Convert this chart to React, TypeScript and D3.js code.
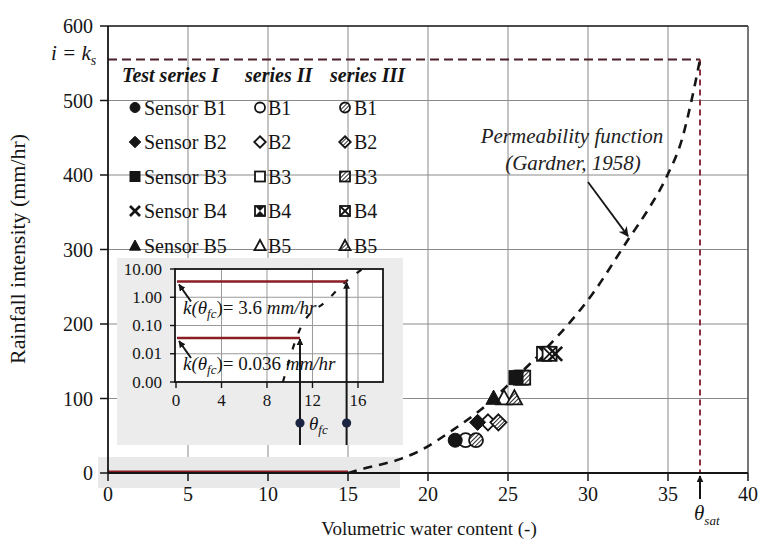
import React from "react";
import * as d3 from "d3";

// ---------- data ----------
const xTicks = [0, 5, 10, 15, 20, 25, 30, 35, 40];
const yTicks = [0, 100, 200, 300, 400, 500, 600];

const sensors = ["B1", "B2", "B3", "B4", "B5"];
const shapes = ["circle", "diamond", "square", "x", "triangle"];

// measured points (theta, intensity) per sensor B1..B5
const seriesITheta = [21.7, 23.1, 25.5, 27.95, 24.1];
const seriesIK = [44, 68, 128, 160, 101];
const seriesIITheta = [22.35, 23.75, 25.8, 27.25, 24.75];
const seriesIIK = [44, 68, 128, 160, 101];
const seriesIIITheta = [23.0, 24.4, 25.95, 27.6, 25.4];
const seriesIIIK = [44, 68, 128, 160, 101];

// Gardner (1958) permeability function
const gardnerTheta = [15, 16, 18.3, 19.5, 21.5, 23.3, 25, 26.3, 27.5, 30.3, 32.5, 33.8, 34.9, 35.9, 36.5, 37];
const gardnerK = [0, 6, 19, 30, 57, 85, 118, 145, 170, 241, 313, 355, 397, 450, 503, 555];

const ks = 555;
const thetaSat = 37;

// inset (log scale)
const insetXTicks = [0, 4, 8, 12, 16];
const insetYTicks = [0.001, 0.01, 0.1, 1, 10];
const insetCurveTheta = [9.4, 11, 13.3, 15.1, 16.4];
const insetCurveK = [0.001, 0.09, 0.79, 4.1, 10];
const thetaFc = [10.9, 15.0];
const kFc = [0.036, 3.6];
const kFcLabels = ["0.036", "3.6"];

// ---------- helpers ----------
const FONT = "'Liberation Serif', 'Times New Roman', serif";
const INK = "#151515";
const MAROON = "#8b1c24";

type MarkerProps = { shape: string; kind: string; cx: number; cy: number; s: number };
function Marker({ shape, kind, cx, cy, s }: MarkerProps) {
  const h = s / 2;
  const fill = kind === "filled" ? INK : kind === "open" ? "#fff" : "url(#hatch)";
  const sw = kind === "filled" ? 1 : 1.8;
  const common = { fill, stroke: INK, strokeWidth: sw };
  if (shape === "circle") return <circle cx={cx} cy={cy} r={h} {...common} />;
  if (shape === "diamond") {
    const d = h * 1.15;
    return <polygon points={`${cx},${cy - d} ${cx + d},${cy} ${cx},${cy + d} ${cx - d},${cy}`} {...common} />;
  }
  if (shape === "square") return <rect x={cx - h} y={cy - h} width={s} height={s} {...common} />;
  if (shape === "triangle") {
    const d = h * 1.1;
    return <polygon points={`${cx},${cy - d} ${cx + d},${cy + d * 0.85} ${cx - d},${cy + d * 0.85}`} {...common} />;
  }
  // x
  if (kind === "filled") {
    return (
      <g stroke={INK} strokeWidth={2.6}>
        <line x1={cx - h} y1={cy - h} x2={cx + h} y2={cy + h} />
        <line x1={cx - h} y1={cy + h} x2={cx + h} y2={cy - h} />
      </g>
    );
  }
  if (kind === "open") {
    return (
      <g>
        <rect x={cx - h} y={cy - h} width={s} height={s} fill="#fff" stroke={INK} strokeWidth={1.8} />
        <polygon points={`${cx - h},${cy - h} ${cx + h},${cy - h} ${cx},${cy}`} fill={INK} />
        <polygon points={`${cx - h},${cy + h} ${cx + h},${cy + h} ${cx},${cy}`} fill={INK} />
      </g>
    );
  }
  return (
    <g stroke={INK} strokeWidth={1.8}>
      <rect x={cx - h} y={cy - h} width={s} height={s} fill="#fff" />
      <line x1={cx - h} y1={cy - h} x2={cx + h} y2={cy + h} />
      <line x1={cx - h} y1={cy + h} x2={cx + h} y2={cy - h} />
    </g>
  );
}

export default function App() {
  const x = d3.scaleLinear().domain([0, 40]).range([108, 748]);
  const y = d3.scaleLinear().domain([0, 600]).range([473, 26]);

  const xi = d3.scaleLinear().domain([0, 18.2]).range([176, 383]);
  const yi = d3.scaleLog().domain([0.001, 10]).range([382, 269]);

  const gardner = d3
    .line<number>()
    .x((_, i) => x(gardnerTheta[i]))
    .y((_, i) => y(gardnerK[i]))
    .curve(d3.curveMonotoneX)(gardnerTheta) as string;

  const insetCurve = d3
    .line<number>()
    .x((_, i) => xi(insetCurveTheta[i]))
    .y((_, i) => yi(insetCurveK[i]))
    .curve(d3.curveMonotoneX)(insetCurveTheta) as string;

  const series = [
    { kind: "open", th: seriesIITheta, k: seriesIIK },
    { kind: "hatched", th: seriesIIITheta, k: seriesIIIK },
    { kind: "filled", th: seriesITheta, k: seriesIK },
  ];

  const legendBase = 114.5;
  const legendStep = 34.5;
  const legendCols = [
    { kind: "filled", mx: 135, tx: 144, prefix: "Sensor " },
    { kind: "open", mx: 260, tx: 268, prefix: "" },
    { kind: "hatched", mx: 345, tx: 354, prefix: "" },
  ];

  return (
    <svg width={761} height={544} style={{ position: "absolute", left: 0, top: 0, background: "#fff" }} fontFamily={FONT}>
      <defs>
        <pattern id="hatch" width={3} height={3} patternUnits="userSpaceOnUse" patternTransform="rotate(45)">
          <rect width={3} height={3} fill="#fff" />
          <line x1={0} y1={0} x2={0} y2={3} stroke={INK} strokeWidth={1.8} />
        </pattern>
        <marker id="arrowFill" viewBox="0 0 10 10" refX={9} refY={5} markerWidth={7} markerHeight={7} orient="auto" markerUnits="userSpaceOnUse">
          <path d="M0,0 L10,5 L0,10 z" fill={INK} />
        </marker>
        <marker id="arrowBig" viewBox="0 0 10 10" refX={9} refY={5} markerWidth={10} markerHeight={10} orient="auto" markerUnits="userSpaceOnUse">
          <path d="M0,0 L10,5 L0,10 L3,5 z" fill={INK} />
        </marker>
      </defs>

      {/* grid */}
      <g stroke="#8a8a8a" strokeWidth={1}>
        {xTicks.slice(1).map((t) => (
          <line key={"gx" + t} x1={x(t)} x2={x(t)} y1={y(600)} y2={y(0)} />
        ))}
        {yTicks.slice(1).map((t) => (
          <line key={"gy" + t} x1={x(0)} x2={x(40)} y1={y(t)} y2={y(t)} />
        ))}
      </g>

      {/* gray inset panel & band */}
      <rect x={117} y={258} width={286} height={187} fill="#ececec" />
      <rect x={98} y={457} width={302} height={31} fill="#e9e9e9" />

      {/* frame top/right */}
      <line x1={x(0)} x2={x(40)} y1={y(600)} y2={y(600)} stroke="#222" strokeWidth={1.3} />
      <line x1={x(40)} x2={x(40)} y1={y(600)} y2={y(0)} stroke="#444" strokeWidth={1.2} />

      {/* ks and theta_sat dashed lines */}
      <line x1={x(0)} x2={x(thetaSat)} y1={y(ks)} y2={y(ks)} stroke="#4a1f28" strokeWidth={2} strokeDasharray="9,5" />
      <line x1={x(thetaSat)} x2={x(thetaSat)} y1={y(ks)} y2={y(0)} stroke="#8b3040" strokeWidth={2} strokeDasharray="6,4" />

      {/* red baseline */}
      <line x1={x(0)} x2={x(15)} y1={y(0) - 1} y2={y(0) - 1} stroke={MAROON} strokeWidth={3} />

      {/* axes */}
      <line x1={x(0)} x2={x(0)} y1={y(600)} y2={y(0)} stroke={INK} strokeWidth={1.8} />
      <line x1={x(0)} x2={x(40)} y1={y(0)} y2={y(0)} stroke={INK} strokeWidth={1.8} />
      <g stroke={INK} strokeWidth={1.5}>
        {yTicks.map((t) => (
          <line key={"ty" + t} x1={x(0) - 8} x2={x(0)} y1={y(t)} y2={y(t)} />
        ))}
        {xTicks.map((t) => (
          <line key={"tx" + t} x1={x(t)} x2={x(t)} y1={y(0)} y2={y(0) + 8} />
        ))}
      </g>
      <g fontSize={20} fill={INK}>
        {yTicks.map((t) => (
          <text key={"ly" + t} x={93} y={y(t)} textAnchor="end" dominantBaseline="central">
            {t}
          </text>
        ))}
        {xTicks.map((t) => (
          <text key={"lx" + t} x={x(t)} y={501} textAnchor="middle">
            {t}
          </text>
        ))}
      </g>
      <text x={429} y={535} textAnchor="middle" fontSize={19} fill={INK}>
        Volumetric water content (-)
      </text>
      <text
        transform="translate(25,249) rotate(-90)"
        textAnchor="middle"
        fontSize={20}
        fill={INK}
        textLength={230}
        lengthAdjust="spacingAndGlyphs"
      >
        Rainfall intensity (mm/hr)
      </text>

      {/* i = ks */}
      <text x={51} y={60} fontSize={21} fontStyle="italic" fill={INK}>
        i = k<tspan fontSize={14} dy={5}>s</tspan>
      </text>

      {/* theta_sat arrow & label */}
      <line x1={x(thetaSat)} x2={x(thetaSat)} y1={499} y2={y(0) + 3} stroke={INK} strokeWidth={2} markerEnd="url(#arrowFill)" />
      <text x={x(thetaSat) - 6} y={520} fontSize={21} fontStyle="italic" fill={INK}>
        θ<tspan fontSize={13} dy={5}>sat</tspan>
      </text>

      {/* Gardner curve */}
      <path d={gardner} fill="none" stroke={INK} strokeWidth={2.6} strokeDasharray="9,7" />
      <text x={572} y={143} textAnchor="middle" fontSize={21} fontStyle="italic" fill="#222">
        Permeability function
      </text>
      <text x={573} y={170} textAnchor="middle" fontSize={21} fontStyle="italic" fill="#222">
        (Gardner, 1958)
      </text>
      <line x1={588} y1={182} x2={x(32.5)} y2={y(318)} stroke={INK} strokeWidth={1.8} markerEnd="url(#arrowBig)" />

      {/* data points */}
      {series.map((s) =>
        s.th.map((t, i) => (
          <Marker key={s.kind + i} shape={shapes[i]} kind={s.kind} cx={x(t)} cy={y(s.k[i])} s={14} />
        ))
      )}

      {/* legend */}
      <g fontSize={20} fontStyle="italic" fontWeight="bold" fill={INK}>
        <text x={122} y={82}>Test series I</text>
        <text x={245} y={82}>series II</text>
        <text x={330} y={82}>series III</text>
      </g>
      {sensors.map((sn, r) => (
        <g key={"leg" + sn}>
          {legendCols.map((c) => (
            <g key={c.kind}>
              <Marker shape={shapes[r]} kind={c.kind} cx={c.mx} cy={legendBase + r * legendStep - 7} s={10} />
              <text x={c.tx} y={legendBase + r * legendStep} fontSize={20} fill={INK}>
                {c.prefix + sn}
              </text>
            </g>
          ))}
        </g>
      ))}

      {/* ---------- inset ---------- */}
      <rect x={xi(0) - 1} y={yi(10)} width={xi(18.2) - xi(0) + 1} height={yi(0.001) - yi(10)} fill="#fff" />
      <g stroke="#9a9a9a" strokeWidth={1}>
        {insetXTicks.slice(1).map((t) => (
          <line key={"igx" + t} x1={xi(t)} x2={xi(t)} y1={yi(10)} y2={yi(0.001)} />
        ))}
        {insetYTicks.slice(1, 4).map((t) => (
          <line key={"igy" + t} x1={xi(0)} x2={xi(18.2)} y1={yi(t)} y2={yi(t)} />
        ))}
      </g>
      <rect x={xi(0) - 1} y={yi(10)} width={xi(18.2) - xi(0) + 1} height={yi(0.001) - yi(10)} fill="none" stroke={INK} strokeWidth={1.8} />
      <g stroke={INK} strokeWidth={1.4}>
        {insetXTicks.map((t) => (
          <line key={"itx" + t} x1={xi(t)} x2={xi(t)} y1={yi(0.001)} y2={yi(0.001) + 6} />
        ))}
        {insetYTicks.map((t) => (
          <line key={"ity" + t} x1={xi(0) - 6} x2={xi(0)} y1={yi(t)} y2={yi(t)} />
        ))}
      </g>
      <g fontSize={17} fill={INK}>
        {insetXTicks.map((t) => (
          <text key={"ilx" + t} x={xi(t)} y={406} textAnchor="middle">
            {t}
          </text>
        ))}
        {insetYTicks.map((t) => (
          <text key={"ily" + t} x={162} y={yi(t)} textAnchor="end" dominantBaseline="central">
            {t.toFixed(2)}
          </text>
        ))}
      </g>
      <path d={insetCurve} fill="none" stroke={INK} strokeWidth={2.2} strokeDasharray="6,11" />
      {thetaFc.map((t, i) => (
        <g key={"fc" + i}>
          <line x1={xi(0) + 1} x2={xi(t)} y1={yi(kFc[i])} y2={yi(kFc[i])} stroke={MAROON} strokeWidth={2.6} />
          <line x1={xi(t)} x2={xi(t)} y1={445} y2={yi(kFc[i]) + 1} stroke={INK} strokeWidth={2} markerEnd="url(#arrowFill)" />
          <circle cx={xi(t)} cy={423} r={4.6} fill="#1b2440" />
          <line
            x1={xi(0) + 15}
            y1={yi(kFc[i]) + 20}
            x2={xi(0) + 3}
            y2={yi(kFc[i]) + 3}
            stroke={INK}
            strokeWidth={2}
            markerEnd="url(#arrowFill)"
          />
          <text x={183} y={yi(kFc[i]) + 32} fontSize={19} fill={INK}>
            <tspan fontStyle="italic">k(θ</tspan>
            <tspan fontStyle="italic" fontSize={13} dy={4}>fc</tspan>
            <tspan dy={-4}>{")= " + kFcLabels[i] + " "}</tspan>
            <tspan fontStyle="italic">mm/hr</tspan>
          </text>
        </g>
      ))}
      <text x={309} y={430} fontSize={19} fontStyle="italic" fill={INK}>
        θ<tspan fontSize={13} dy={4}>fc</tspan>
      </text>
    </svg>
  );
}
